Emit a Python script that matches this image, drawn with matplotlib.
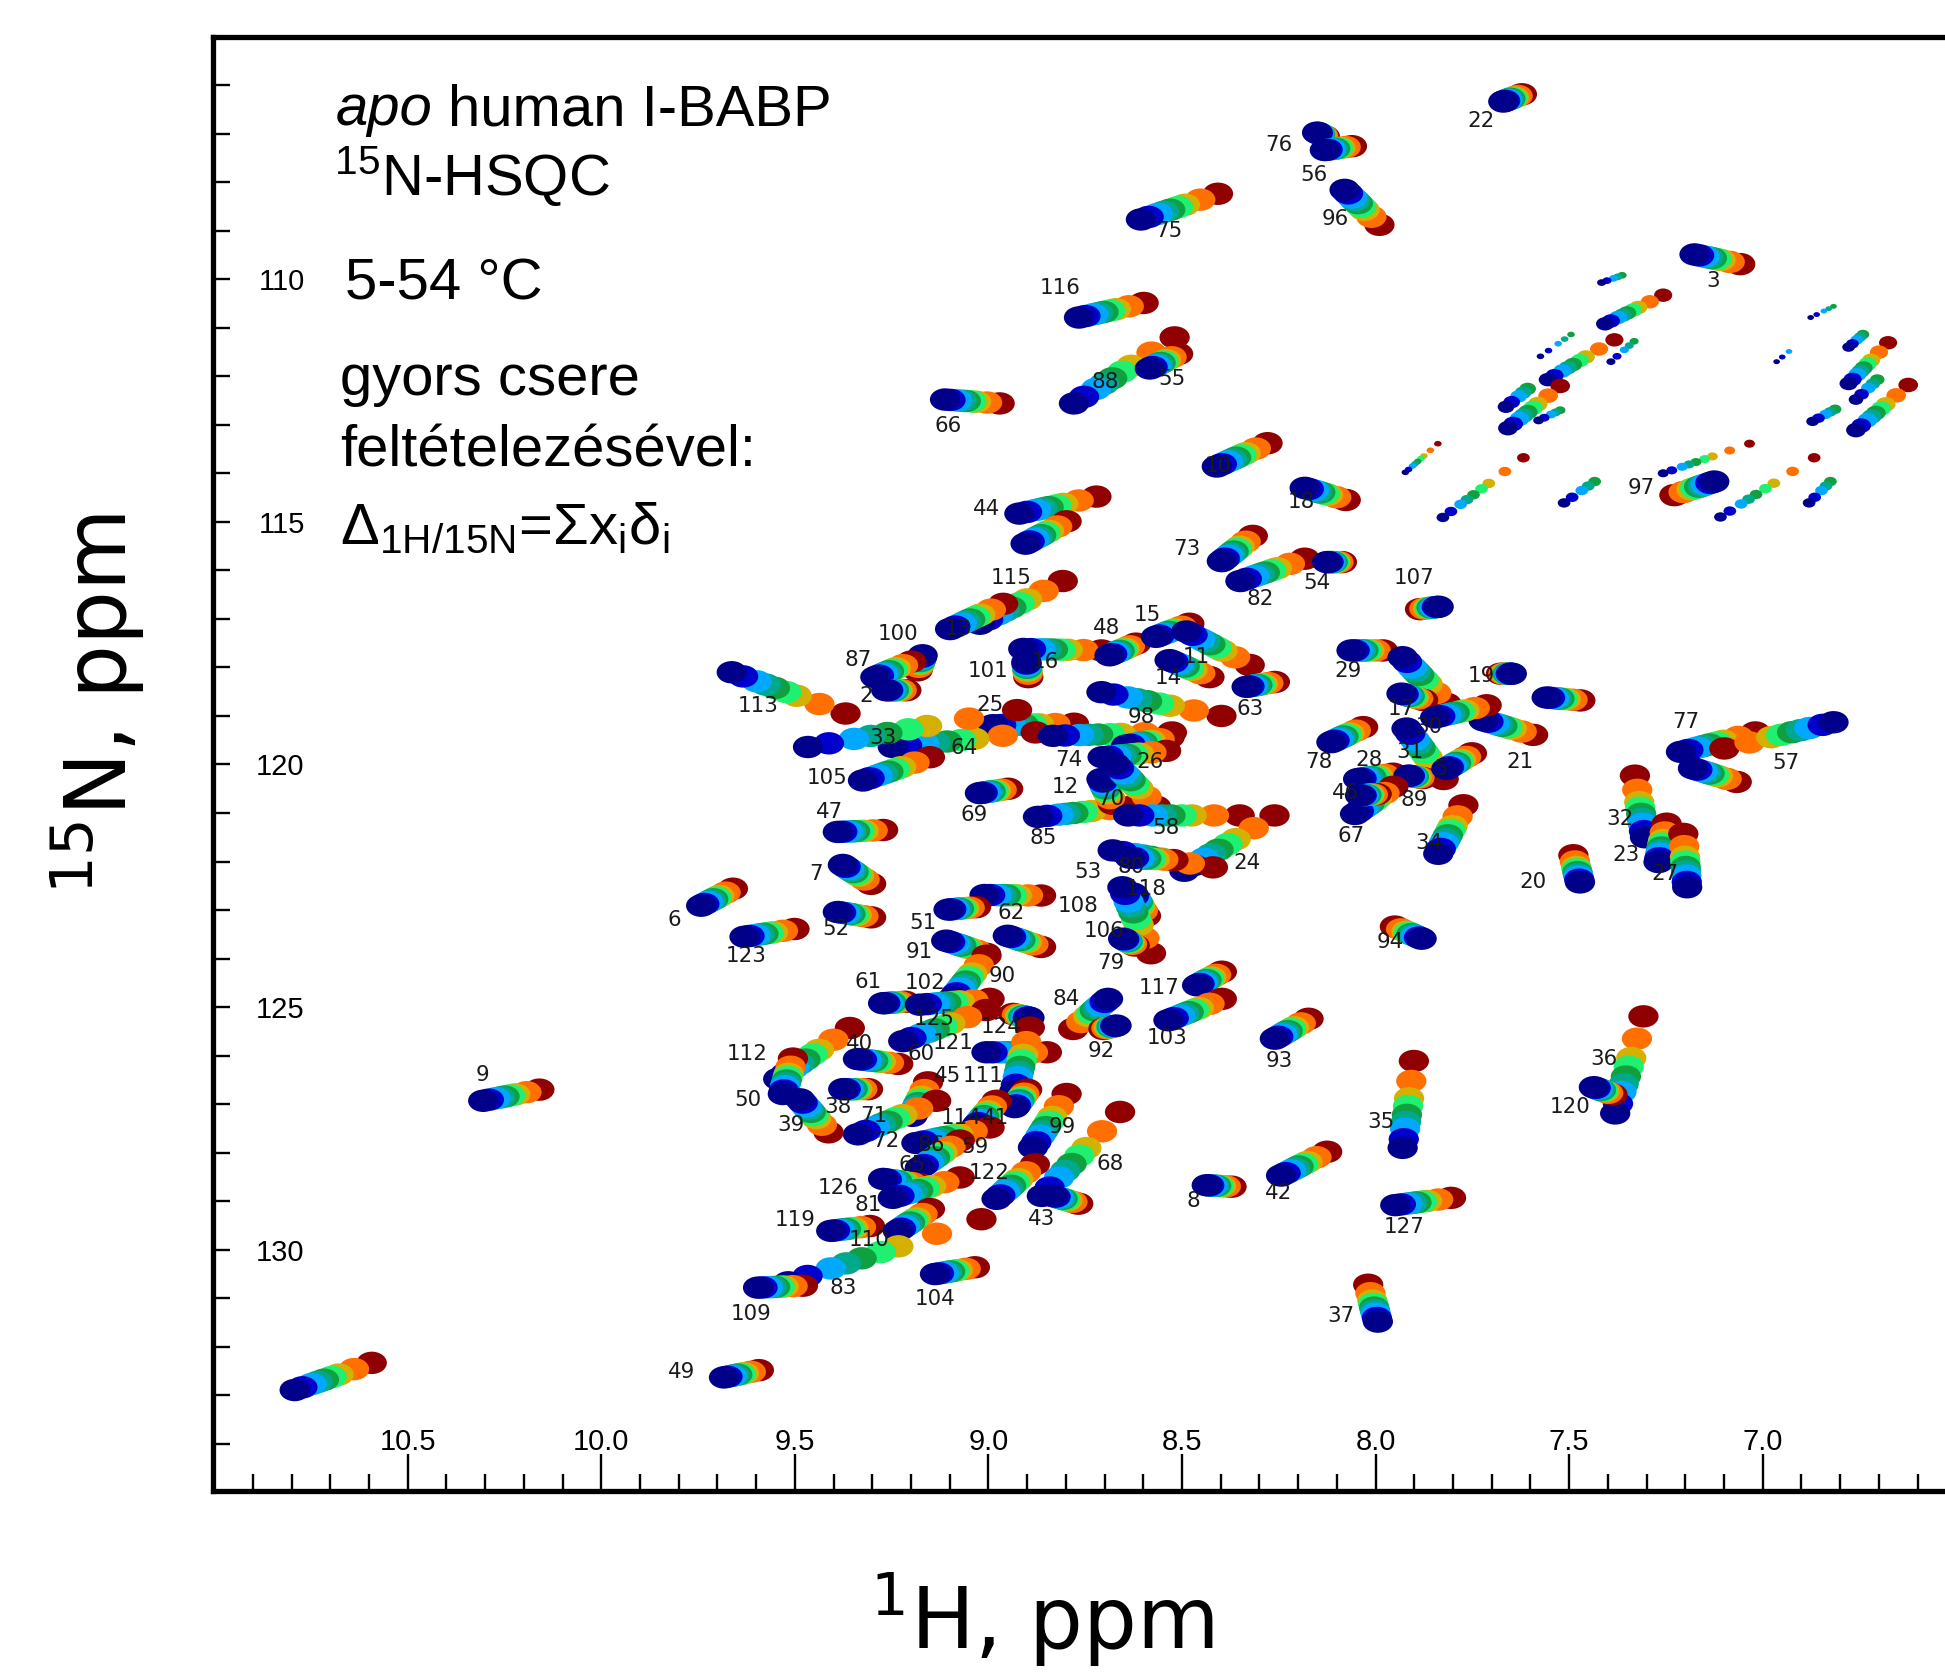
import numpy as np
import matplotlib
matplotlib.use("Agg")
import matplotlib.pyplot as plt
from matplotlib.path import Path
from matplotlib.ticker import FixedLocator, FixedFormatter
from matplotlib.transforms import Affine2D

plt.rcParams["mathtext.fontset"] = "custom"
plt.rcParams["mathtext.rm"] = "Liberation Sans"
plt.rcParams["mathtext.it"] = "Liberation Sans:italic"
plt.rcParams["mathtext.bf"] = "Liberation Sans:bold"

# The blobs between them are NOT read one by one: they are laid out along the straight
# line between the two ends, using one shared spacing read from peak 113.
peak_id = ["corner","3","22","76","56","96","75","116","88","55",
 "66","10","18","44","4","73","82","54","107","115",
 "13","100","87","2","113","16","101","48","15","11",
 "14","63","98","25","64","33","74","26","26b","105",
 "69","47","85","12","70","58","24","53","80","118",
 "108","106","7","6","52","123","62","51","91","90b",
 "90","61","102","125","124","121","111","45","71","41",
 "114","99","68","43","122","86","65","126","81","119",
 "110","83","109","104","112","50","39","40","38","84",
 "92","117","103","93","94","8","42","127","35","37",
 "36","120","9","49","97","77","57","57b","21","19",
 "19b","29","17","17b","30","31","78","28","89","5",
 "67","46","34","20","32","23","27"]
h_cold = [10.792,7.176,7.670,8.151,8.131,8.080,8.606,8.766,8.779,8.583,
 9.112,8.410,8.183,8.920,8.904,8.397,8.349,8.125,7.837,9.022,
 9.099,9.170,9.292,9.264,9.663,8.910,8.902,8.687,8.567,8.489,
 8.532,8.333,8.708,8.988,9.247,9.466,8.833,8.644,8.705,9.324,
 9.022,9.389,8.872,8.708,8.673,8.639,8.494,8.679,8.635,8.627,
 8.654,8.652,9.376,9.742,9.389,9.630,9.010,9.103,9.109,8.950,
 9.091,9.272,9.177,9.220,8.894,9.005,8.933,9.196,9.337,8.932,
 9.031,8.885,8.862,8.833,8.979,9.186,9.177,9.272,9.247,9.406,
 9.234,9.517,9.595,9.138,9.543,9.531,9.487,9.337,9.375,8.691,
 8.669,8.461,8.535,8.260,7.881,8.436,8.244,7.949,7.930,7.994,
 7.381,7.436,10.305,9.683,7.125,7.211,6.817,7.180,7.721,7.648,
 7.558,8.062,7.930,7.933,7.846,7.920,8.114,8.045,7.915,7.817,
 8.053,8.040,7.838,7.472,7.304,7.269,7.195]
n_cold = [132.89,109.49,106.34,106.98,107.34,108.16,108.77,110.79,112.56,111.84,
 112.48,113.86,114.30,114.83,115.45,115.81,116.22,115.83,116.75,117.10,
 117.21,117.75,118.20,118.47,118.10,117.62,117.89,117.75,117.37,117.26,
 117.85,118.40,118.51,119.19,119.64,119.64,119.41,119.61,119.85,120.33,
 120.59,121.39,121.08,120.30,119.99,121.05,122.19,121.77,121.92,122.66,
 122.53,123.59,122.07,122.91,123.04,123.55,122.69,122.99,123.63,123.53,
 124.80,124.92,124.95,125.70,125.22,125.93,126.73,127.24,127.62,127.06,
 127.44,127.89,128.89,128.89,128.95,127.80,128.31,128.54,128.93,129.61,
 129.61,130.67,130.78,130.50,126.48,126.79,126.90,126.07,126.69,124.83,
 125.38,124.55,125.27,125.65,123.59,128.67,128.47,129.08,127.90,131.48,
 127.19,126.65,126.93,132.63,114.17,119.74,119.13,120.08,119.09,118.13,
 118.62,117.65,117.79,118.54,119.03,119.26,119.54,120.30,120.23,120.09,
 121.02,120.64,121.84,122.43,121.50,122.01,122.53]
h_hot = [10.593,7.058,7.622,8.131,8.061,7.990,8.407,8.599,8.519,8.510,
 8.971,8.279,8.077,8.721,8.798,8.317,8.183,8.087,7.885,8.808,
 8.962,9.183,9.199,9.212,9.369,8.708,8.897,8.619,8.481,8.325,
 8.429,8.260,8.398,8.779,8.878,8.926,8.526,8.532,8.541,9.151,
 8.949,9.272,8.631,8.679,8.567,8.351,8.261,8.420,8.522,8.593,
 8.580,8.622,9.303,9.660,9.303,9.501,8.864,9.032,9.006,8.864,
 9.005,9.215,8.997,9.006,8.936,8.849,8.893,9.156,9.135,8.900,
 8.979,8.798,8.660,8.768,8.880,8.997,9.074,9.176,9.074,9.306,
 9.151,9.018,9.479,9.035,9.358,9.505,9.413,9.233,9.311,8.781,
 8.703,8.397,8.397,8.173,7.950,8.372,8.125,7.805,7.901,8.019,
 7.308,7.388,10.160,9.593,7.228,7.019,7.099,7.067,7.593,7.676,
 7.471,7.981,7.817,7.877,7.713,7.824,8.032,7.955,7.878,7.751,
 7.954,7.997,7.773,7.489,7.330,7.248,7.205]
n_hot = [132.33,109.69,106.19,107.06,107.26,108.88,108.24,110.49,111.20,111.54,
 112.56,113.38,114.55,114.48,114.99,115.29,115.76,115.83,116.80,116.22,
 116.69,118.06,117.88,118.47,118.95,117.65,118.20,117.51,117.10,117.95,
 118.20,118.30,119.00,119.16,119.34,118.88,119.34,119.44,119.72,119.85,
 120.50,121.35,120.87,120.81,120.87,121.05,121.05,122.12,121.97,123.12,
 123.89,123.73,122.46,122.56,123.15,123.39,122.70,122.94,123.90,123.76,
 123.94,124.89,124.83,125.06,125.14,125.93,125.42,126.55,126.93,126.70,
 126.93,126.79,127.16,129.05,128.24,127.48,127.75,128.65,128.51,129.51,
 129.16,129.37,130.74,130.36,125.43,126.06,127.58,126.17,126.69,125.45,
 125.45,124.27,124.83,125.24,123.34,128.70,127.98,128.93,126.11,130.72,
 125.19,126.80,126.70,132.48,114.45,119.34,119.67,120.36,119.39,118.13,
 118.68,117.65,118.75,118.67,118.78,120.30,119.23,120.19,120.28,119.77,
 120.46,120.61,120.84,121.87,120.23,121.22,121.43]

# Weak, thin traces in the upper right of the spectrum
w_h_cold = [7.407,7.416,7.574,7.555,7.392,7.663,7.658,7.579,7.923,7.826,7.513,
            7.257,7.109,6.880,6.964,6.876,6.778,6.759,6.778,6.871,6.759]
w_n_cold = [110.92,110.07,111.59,112.07,111.70,112.63,113.07,112.91,113.98,114.91,114.61,
            114.00,114.90,114.61,111.70,110.79,112.15,112.48,111.40,112.93,113.11]
w_h_last = [7.257,7.363,7.495,7.383,7.332,7.607,7.523,7.523,7.839,7.618,7.434,
            7.034,6.867,6.825,6.932,6.817,6.676,6.704,6.741,6.813,6.624]
w_n_last = [110.33,109.92,111.14,111.25,111.28,112.26,112.20,112.70,113.39,113.68,114.17,
            113.39,113.68,114.17,111.49,110.56,111.31,112.07,111.14,112.68,112.18]
w_last_colour = [8,4,4,8,4,4,8,4,8,8,4,8,8,4,2,4,8,4,4,4,8]
w_size = [.6,.3,.25,.6,.3,.55,.65,.35,.25,.42,.42,.36,.42,.42,.22,.22,.6,.48,.42,.42,.65]

label_text = ["3","22","76","56","96","75","116","88","55","66","10","18","44","73","82","54","107","115",
 "13","100","87","2","113","16","101","48","15","11","14","63","98","25","33","64","74","26","105","69","47",
 "12","70","85","58","24","53","80","118","108","106","79","7","6","52","123","62","51","91","90","61","102",
 "125","124","121","60","84","92","117","103","93","40","112","45","111","50","38","39","71","114","41","72",
 "86","59","99","65","68","122","126","81","43","119","110","83","109","104","8","42","127","35","37","36",
 "120","9","49","94","97","77","57","21","19","29","17","30","31","78","28","46","89","5","67","34","20","32","23","27"]
label_h = [7.128,7.728,8.250,8.160,8.103,8.535,8.814,8.699,8.526,9.103,8.407,8.192,9.006,8.487,8.298,8.151,7.901,8.942,
 9.077,9.234,9.337,9.317,9.596,8.853,9.000,8.695,8.590,8.462,8.535,8.324,8.606,8.997,9.272,9.064,8.792,8.583,9.417,9.038,9.410,
 8.801,8.683,8.859,8.542,8.333,8.744,8.631,8.593,8.769,8.702,8.683,9.446,9.811,9.394,9.625,8.942,9.170,9.179,8.965,9.311,9.163,
 9.141,8.968,9.090,9.173,8.798,8.708,8.558,8.539,8.250,9.333,9.622,9.106,9.013,9.622,9.388,9.510,9.295,9.071,8.981,9.266,
 9.147,9.035,8.808,9.196,8.686,8.997,9.388,9.311,8.862,9.500,9.308,9.375,9.612,9.138,8.471,8.250,7.926,7.987,8.090,7.410,
 7.497,10.308,9.792,7.962,7.314,7.199,6.939,7.628,7.728,8.071,7.933,7.862,7.910,8.147,8.016,8.077,7.901,7.830,8.064,7.862,7.593,7.369,7.353,7.253]
label_n = [110.03,106.75,107.24,107.85,108.75,109.00,110.18,112.12,112.05,113.02,113.84,114.60,114.73,115.55,116.60,116.27,116.16,116.16,
 117.21,117.32,117.85,118.59,118.80,117.88,118.08,117.19,116.91,117.78,118.21,118.85,119.03,118.77,119.46,119.67,119.90,119.95,120.28,121.05,120.97,
 120.46,120.72,121.51,121.31,122.02,122.22,122.12,122.56,122.92,123.43,124.09,122.25,123.20,123.38,123.94,123.07,123.27,123.86,124.35,124.48,124.50,
 125.24,125.40,125.73,125.96,124.83,125.91,124.60,125.63,126.11,125.75,125.96,126.42,126.42,126.91,127.06,127.42,127.24,127.29,127.29,127.75,
 127.85,127.88,127.47,128.26,128.24,128.41,128.72,129.08,129.36,129.39,129.80,130.79,131.33,131.02,129.00,128.82,129.54,127.37,131.36,126.06,
 127.06,126.39,132.51,123.66,114.30,119.13,119.97,119.95,118.18,118.08,118.85,119.23,119.75,119.95,119.90,120.59,120.74,120.10,121.48,121.61,122.43,121.13,121.87,122.25]

temp_colours = ["#00008B","#0000CC","#00A8FF","#00A88C","#10A040","#20F070","#D4B000","#FF7000","#900000"]
temp_spacing = [0, .10, .22, .30, .38, .48, .57, .77, 1]

x_major = [10.5,10.0,9.5,9.0,8.5,8.0,7.5,7.0]
x_major_labels = ["10.5","10.0","9.5","9.0","8.5","8.0","7.5","7.0"]
x_minor = [round(6.6 + 0.1*i, 1) for i in range(44)]
y_major = [110,115,120,125,130]
y_minor = list(range(106,135))

W, H = 1945, 1676
fig = plt.figure(figsize=(W/100, H/100), dpi=100, facecolor="white")
ax = fig.add_axes([213/W, 1-1490.5/H, (W-213)/W, (1490.5-37)/H])
ax.set_xlim(11.003, 6.529)
ax.set_ylim(134.96, 105.01)
for s, sp in ax.spines.items():
    sp.set_linewidth(3.8)
    sp.set_color("black")
ax.spines["right"].set_visible(False)

ax.xaxis.set_major_locator(FixedLocator(x_major))
ax.xaxis.set_major_formatter(FixedFormatter(x_major_labels))
ax.xaxis.set_minor_locator(FixedLocator(x_minor))
ax.yaxis.set_major_locator(FixedLocator(y_major))
ax.yaxis.set_minor_locator(FixedLocator(y_minor))
ax.tick_params(axis="x", which="major", direction="in", length=27, width=1.7, pad=-45,
               labelsize=21, labelfontfamily="Liberation Sans")
ax.tick_params(axis="x", which="minor", direction="in", length=12.5, width=1.7)
ax.tick_params(axis="y", which="major", direction="in", length=12, width=1.7, pad=-66,
               labelsize=21, labelfontfamily="Liberation Sans")
ax.tick_params(axis="y", which="minor", direction="in", length=12, width=1.7)

blob = Path.unit_circle().transformed(Affine2D().scale(1, 0.74))

def trace(h0, n0, h1, n1, n_col, size, z):
    frac = np.array(temp_spacing[:n_col])
    frac = frac / frac[-1]
    hs = h0 + (h1 - h0) * frac
    ns = n0 + (n1 - n0) * frac
    ax.scatter(hs[::-1], ns[::-1], s=(21.8 * size) ** 2, marker=blob,
               c=temp_colours[:n_col][::-1], linewidths=0, zorder=z)

for i in range(len(w_h_cold)):
    trace(w_h_cold[i], w_n_cold[i], w_h_last[i], w_n_last[i], w_last_colour[i] + 1, w_size[i], 3)
for i in range(len(peak_id)):
    trace(h_cold[i], n_cold[i], h_hot[i], n_hot[i], len(temp_colours), 1.0, 3 + i * 0.001)

for t, h, n in zip(label_text, label_h, label_n):
    ax.text(h, n, t, ha="center", va="center", fontsize=15.4, color="#1a1a1a",
            family="DejaVu Sans", zorder=6)

def fig_text(x, y, s, **kw):
    fig.text(x / W, 1 - y / H, s, **kw)

sans = dict(family="Liberation Sans", fontsize=41.8, color="black", va="center", ha="left",
            math_fontfamily="custom")
ptx = 1945 / 1568
fig_text(271*ptx, 89*ptx, "apo", style="italic", family="Liberation Sans", fontsize=41.8, va="center", ha="left")
fig_text(361*ptx, 89*ptx, "human I-BABP", family="Liberation Sans", fontsize=41.8, va="center", ha="left")
fig_text(269*ptx, 142*ptx, r"$\mathregular{^{15}}$N-HSQC", **sans)
fig_text(278*ptx, 229*ptx, "5-54 °C", **sans)
fig_text(274*ptx, 306*ptx, "gyors csere", **sans)
fig_text(274*ptx, 364*ptx, "feltételezésével:", **sans)
fig_text(274*ptx, 426*ptx, r"Δ$\mathregular{_{1H/15N}}$=Σx$\mathregular{_{i}}$δ$\mathregular{_{i}}$", **sans)

big = dict(family="DejaVu Sans", fontsize=61, color="black", ha="center", va="center",
           math_fontfamily="dejavusans")
fig_text(840*ptx, 1305*ptx, r"$^{\mathregular{1}}$H, ppm", **big)
fig_text(78*ptx, 567*ptx, r"$^{\mathregular{15}}$N, ppm", rotation=90, **big)

fig.savefig("out.png", dpi=100, facecolor="white")
